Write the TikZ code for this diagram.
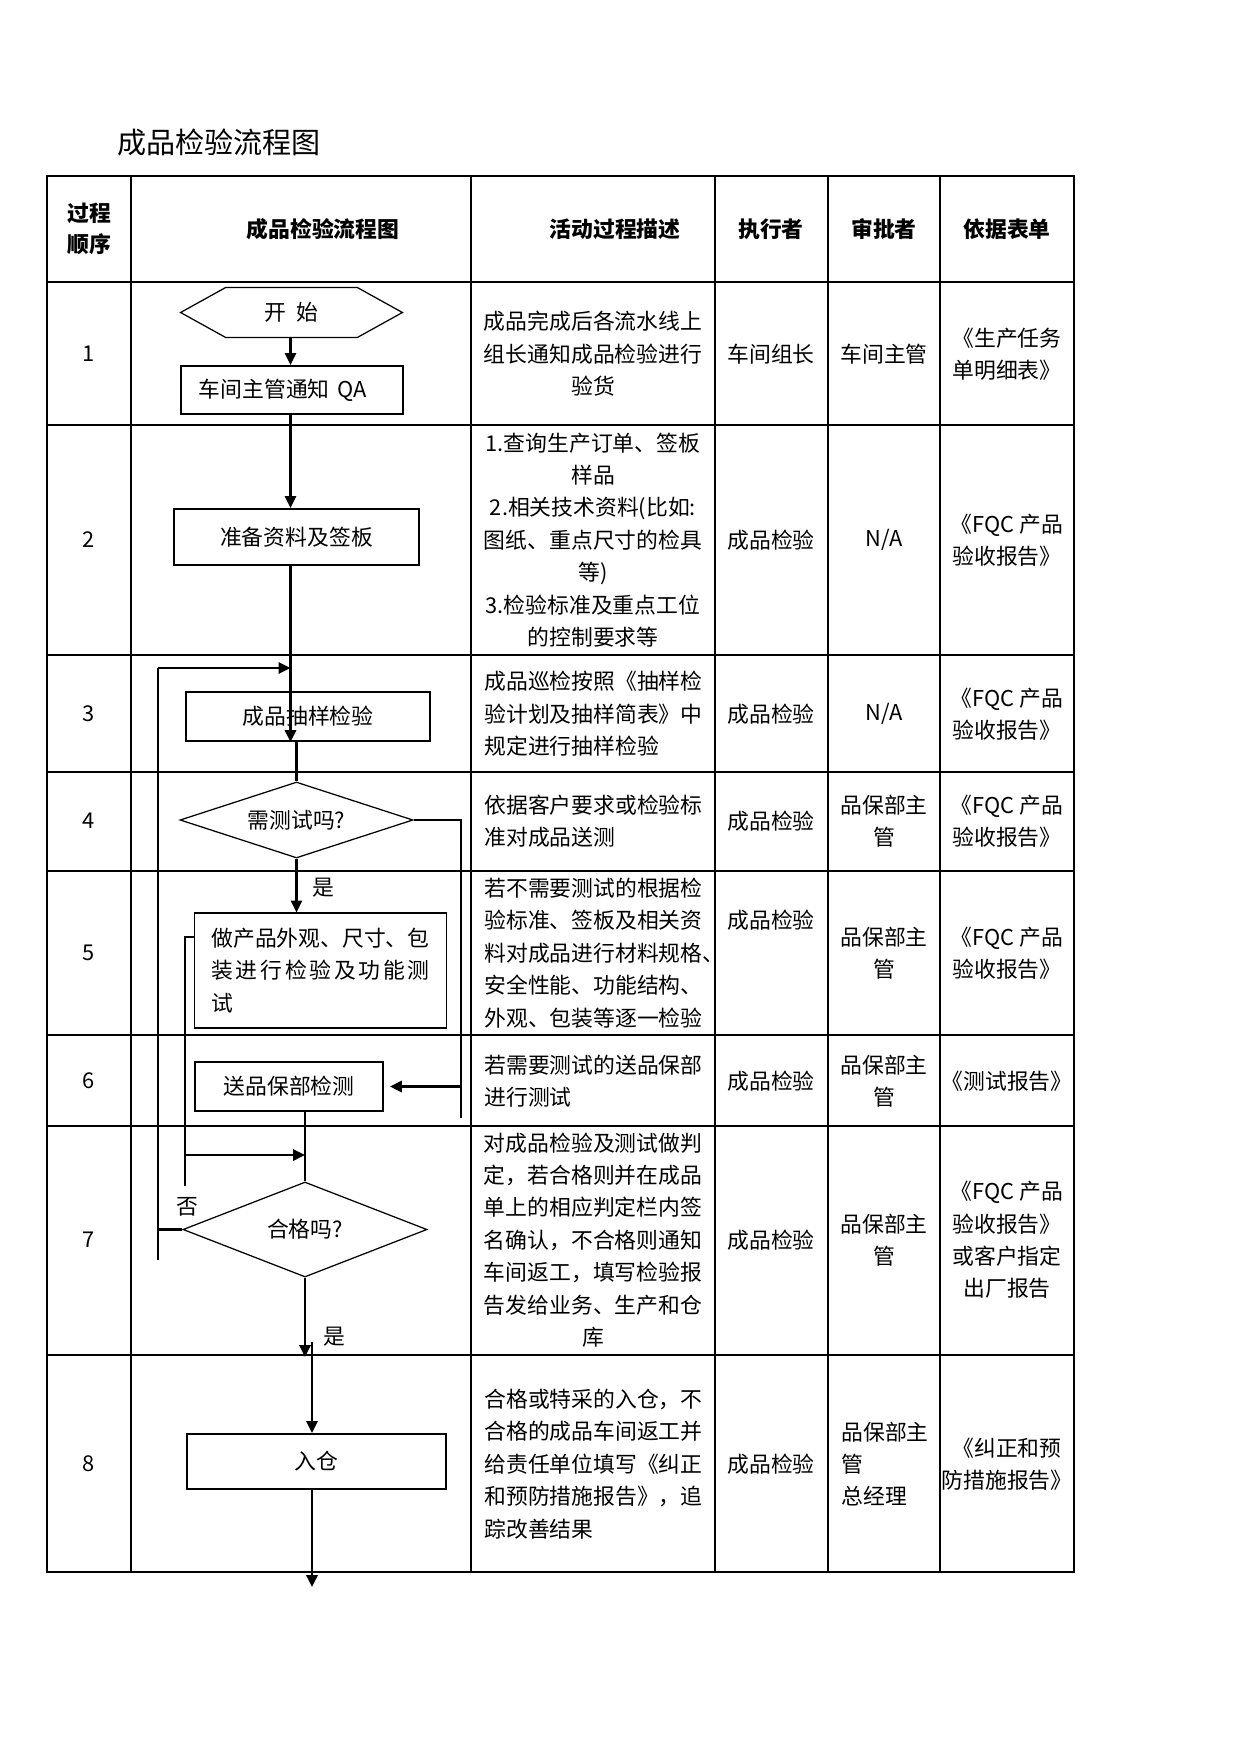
\documentclass[tikz,border=0pt]{standalone}
\usepackage{fontspec}
\setmainfont{Noto Sans CJK SC}
\usetikzlibrary{shapes.geometric,arrows.meta,calc}

\begin{document}
\begin{tikzpicture}[
    x=0.16922mm, y=-0.16922mm,
    celltext/.style={font=\fontsize{10.5pt}{15.6pt}\selectfont, inner sep=0pt},
    headtext/.style={font=\fontsize{10.5pt}{15pt}\selectfont\bfseries,
                     inner sep=0pt, align=center},
    titletext/.style={font=\fontsize{14pt}{16pt}\selectfont, inner sep=0pt},
    flowbox/.style={draw, line width=1pt, inner sep=0pt, align=center,
                    font=\fontsize{10.5pt}{15.6pt}\selectfont},
    decision/.style={diamond, draw, line width=0.6pt, aspect=2.5,
                     inner sep=0pt, font=\fontsize{10.5pt}{15.6pt}\selectfont},
    gridline/.style={line width=0.5pt},
    gridbold/.style={line width=1pt},
    gridframe/.style={line width=1.3pt},
    link/.style={line width=1pt},
    >={Triangle[length=2mm,width=1.9mm]}
]
\useasboundingbox (0,0) rectangle (1241,1754);

% --- TITLE ---
\node[titletext, anchor=west] (title) at (117,142) {成品检验流程图};

% --- TABLE GRID ---
\foreach \cx in {131,471,715,940}
  \draw[gridline] (\cx,176) -- (\cx,1572);
\draw[gridbold] (828,176) -- (828,1572);
\foreach \ry in {282,1126,1355}
  \draw[gridline] (47,\ry) -- (1074,\ry);
\foreach \ry in {425,655,772,871,1035}
  \draw[gridbold] (47,\ry) -- (1074,\ry);
\draw[gridframe] (47,176) rectangle (1074,1572);

% --- HEADER ---
\node[headtext] (hSeq)  at (89,229)   {过程\\顺序};
\node[headtext] (hFlow) at (323,229)  {成品检验流程图};
\node[headtext] (hDesc) at (615,229)  {活动过程描述};
\node[headtext] (hExec) at (771,229)  {执行者};
\node[headtext] (hAppr) at (884,229)  {审批者};
\node[headtext] (hForm) at (1007,229) {依据表单};

% --- STEP NUMBERS ---
\foreach \n/\ry in {1/354,2/540,3/714,4/821,5/953,6/1081,7/1240,8/1464}
  \node[celltext] (seq\n) at (89,\ry) {\n};

% --- DESCRIPTIONS ---
\node[celltext, align=center] (desc1) at (593,354)
  {成品完成后各流水线上\\组长通知成品检验进行\\验货};
\node[celltext, align=center] (desc2) at (593,540)
  {1.查询生产订单、签板\\样品\\2.相关技术资料(比如:\\图纸、重点尺寸的检具\\等)\\3.检验标准及重点工位\\的控制要求等};
\node[celltext, anchor=west, align=left] (desc3) at (484,714)
  {成品巡检按照《抽样检\\验计划及抽样简表》中\\规定进行抽样检验};
\node[celltext, anchor=west, align=left] (desc4) at (484,821)
  {依据客户要求或检验标\\准对成品送测};
\node[celltext, anchor=west, align=left] (desc5) at (484,953)
  {若不需要测试的根据检\\验标准、签板及相关资\\料对成品进行材料规格、\\安全性能、功能结构、\\外观、包装等逐一检验};
\node[celltext, anchor=west, align=left] (desc6) at (484,1081)
  {若需要测试的送品保部\\进行测试};
\node[celltext, align=center] (desc7) at (593,1240)
  {对成品检验及测试做判\\定，若合格则并在成品\\单上的相应判定栏内签\\名确认，不合格则通知\\车间返工，填写检验报\\告发给业务、生产和仓\\库};
\node[celltext, anchor=west, align=left] (desc8) at (484,1464)
  {合格或特采的入仓，不\\合格的成品车间返工并\\给责任单位填写《纠正\\和预防措施报告》，追\\踪改善结果};

% --- EXECUTORS ---
\node[celltext] (exec1) at (771,354) {车间组长};
\foreach \n/\ry in {2/540,3/714,4/821,5/920,6/1081,7/1240,8/1464}
  \node[celltext] (exec\n) at (771,\ry) {成品检验};

% --- APPROVERS ---
\node[celltext] (appr1) at (884,354) {车间主管};
\node[celltext] (appr2) at (884,540) {N/A};
\node[celltext] (appr3) at (884,714) {N/A};
\foreach \n/\ry in {4/821,5/953,6/1081,7/1240}
  \node[celltext, align=center] (appr\n) at (884,\ry) {品保部主\\管};
\node[celltext, anchor=west, align=left] (appr8) at (841,1464)
  {品保部主\\管\\总经理};

% --- FORMS ---
\node[celltext, align=center] (form1) at (1007,354) {《生产任务\\单明细表》};
\foreach \n/\ry in {2/540,3/714,4/821,5/953}
  \node[celltext, align=center] (form\n) at (1007,\ry) {《FQC 产品\\验收报告》};
\node[celltext] (form6) at (1007,1081) {《测试报告》};
\node[celltext, align=center] (form7) at (1007,1240)
  {《FQC 产品\\验收报告》\\或客户指定\\出厂报告};
\node[celltext, align=center] (form8) at (1007,1464) {《纠正和预\\防措施报告》};

% --- FLOW SHAPES ---
\node[celltext, minimum width=37.4mm, minimum height=8.3mm]
  (start) at (291.5,312.5) {开\enspace 始};
\draw[line width=0.6pt] (start.west)
  -- ($(start.north west)+(45,0)$) -- ($(start.north east)+(-45,0)$)
  -- (start.east)
  -- ($(start.south east)+(-45,0)$) -- ($(start.south west)+(45,0)$)
  -- cycle;

\node[flowbox, align=left, text width=31.5mm, inner xsep=3.05mm,
      minimum height=8.12mm] (notify) at (292,390) {车间主管通知 QA};
\node[flowbox, minimum width=41.46mm, minimum height=9.48mm]
  (prep) at (296.5,537) {准备资料及签板};
\node[flowbox, minimum width=41.29mm, minimum height=8.29mm]
  (sample) at (308,716.5) {成品抽样检验};
\node[decision, minimum width=39.43mm, minimum height=12.86mm]
  (needtest) at (296.5,820) {需测试吗?};
\node[flowbox, line width=0.5pt, align=left, inner xsep=2.9mm,
      minimum width=42.47mm, minimum height=19.46mm] (inspect) at (320.5,970.5)
  {做产品外观、尺寸、包\\
   \makebox[105pt]{装\hfill 进\hfill 行\hfill 检\hfill 验\hfill 及\hfill 功\hfill 能\hfill 测}\\
   试};
\node[flowbox, minimum width=31.81mm, minimum height=8.29mm]
  (sendtest) at (289,1086.5) {送品保部检测};
\node[decision, minimum width=41.3mm, minimum height=16.08mm]
  (pass) at (305,1229.5) {合格吗?};
\node[flowbox, minimum width=43.83mm, minimum height=9.31mm]
  (store) at (316.5,1461.5) {入仓};

% --- CONNECTORS ---
\coordinate (mainX) at (290.5,0);
\draw[->, link] (start.south -| mainX) -- (notify.north -| mainX);
\draw[->, link] (notify.south -| mainX) -- (prep.north -| mainX);
\draw[->, link] (prep.south -| mainX) -- (sample.south -| mainX);
\draw[link] (sample.south -| needtest.north) -- (needtest.north);
\draw[->, link] (needtest.south) -- (inspect.north -| needtest.south);
\node[celltext] (yesA) at (323,888) {是};

% test needed: right side
\coordinate (rightTop) at (461,820);
\coordinate (rightEnd) at (461,1118);
\draw[link] (needtest.east) -- (needtest.east -| rightTop) -- (rightEnd);
\draw[->, link, shorten >=1mm] (rightEnd |- sendtest.east) -- (sendtest.east);

\draw[link] (sendtest.south -| pass.north) -- (pass.north);

% inspection joins the check
\coordinate (loopB) at (185,937);
\coordinate (loopBEnd) at (185,1186);
\coordinate (mergeB) at (305,1155);
\draw[link] (inspect.west |- loopB) -- (loopB) -- (loopBEnd);
\draw[->, link] (loopB |- mergeB) -- (mergeB);

% fail: back to sampling
\coordinate (loopA) at (158,668);
\coordinate (loopAEnd) at (158,1260);
\draw[link] (pass.west) -- (pass.west -| loopA);
\draw[link] (loopAEnd) -- (loopA);
\draw[->, link] (loopA) -- (loopA -| mainX);
\node[celltext] (noA) at (187,1207) {否};

% pass: to store
\coordinate (yesEnd) at (305,1357);
\draw[->, link] (pass.south) -- (yesEnd);
\node[celltext] (yesB) at (334,1337) {是};
\coordinate (storeX) at (312,1342);
\draw[->, link] (storeX) -- (storeX |- store.north);
\coordinate (exitPt) at (312,1587);
\draw[->, link] (store.south -| exitPt) -- (exitPt);

\end{tikzpicture}
\end{document}
